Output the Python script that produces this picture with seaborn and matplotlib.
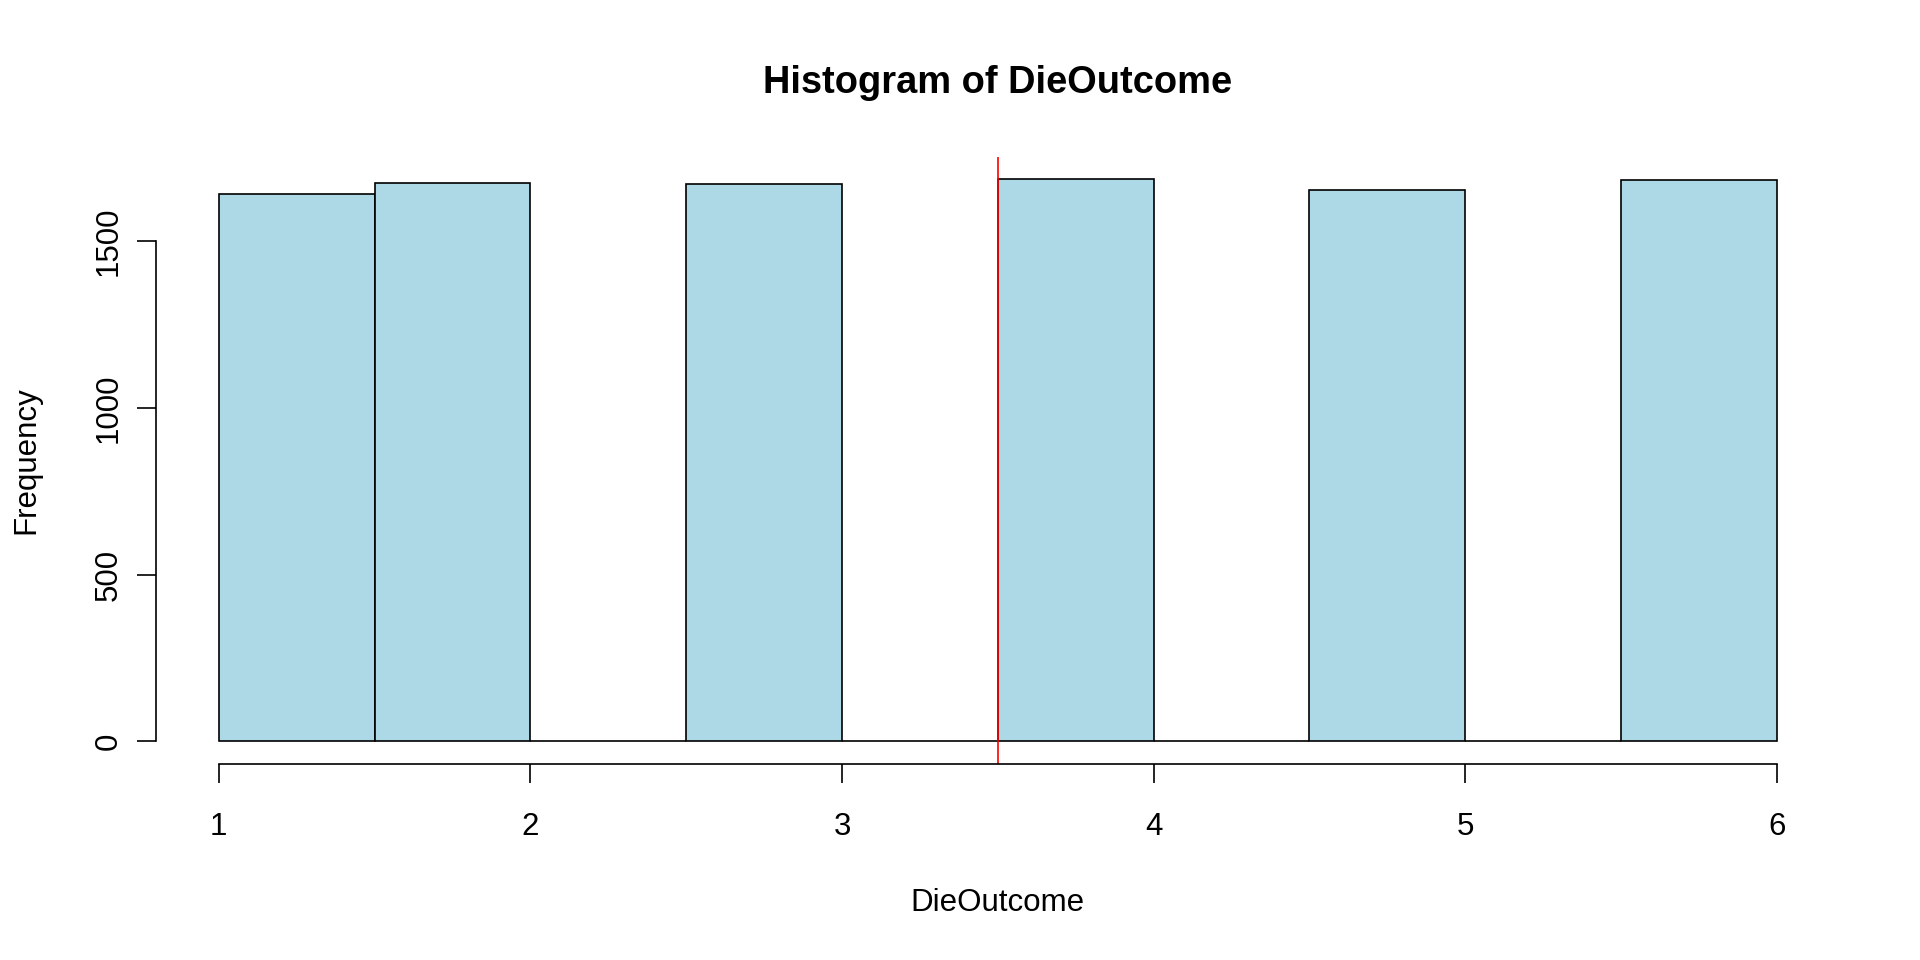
import numpy as np
import pandas as pd
import matplotlib
matplotlib.use("Agg")
import matplotlib.pyplot as plt
import seaborn as sns

# ---- data ----
faces = [1, 2, 3, 4, 5, 6]
counts = [1642, 1674, 1672, 1686, 1653, 1683]
bin_edges = [1.0, 1.5, 2.0, 2.5, 3.0, 3.5, 4.0, 4.5, 5.0, 5.5, 6.0]
x_ticks = [1, 2, 3, 4, 5, 6]
y_ticks = [0, 500, 1000, 1500]
ref_line = 3.5
title = "Histogram of DieOutcome"
xlabel = "DieOutcome"
ylabel = "Frequency"

# R-style right-closed bins (include.lowest): value v goes to bin (a, b]
edges = np.array(bin_edges)
idx = np.clip(np.searchsorted(edges, faces, side="left") - 1, 0, len(edges) - 2)
bin_counts = np.zeros(len(edges) - 1)
for i, c in zip(idx, counts):
    bin_counts[i] += c
bin_centers = (edges[:-1] + edges[1:]) / 2
df = pd.DataFrame({"DieOutcome": bin_centers, "count": bin_counts})

sns.set_theme(style="white")
plt.rcParams['font.family'] = ['Liberation Sans', 'DejaVu Sans']

fig = plt.figure(figsize=(19.2, 9.6), dpi=100)
L, R, T, B = 156.4, 1839.3, 157.0, 763.7
ax = fig.add_axes([L / 1920, 1 - B / 960, (R - L) / 1920, (B - T) / 960])

sns.histplot(data=df, x="DieOutcome", weights="count", bins=list(bin_edges),
             color="#ADD8E6", alpha=1, edgecolor="black", linewidth=1.2, ax=ax)
ax.axvline(ref_line, color="#FF0000", lw=1.2)

ymax = max(counts)
ax.set_ylim(-0.04 * ymax, 1.04 * ymax)
ax.set_xlim(1 - 0.04 * 5, 6 + 0.04 * 5)

for s in ["top", "right"]:
    ax.spines[s].set_visible(False)
for s in ["left", "bottom"]:
    ax.spines[s].set_color("black")
    ax.spines[s].set_linewidth(1.2)
ax.spines["left"].set_bounds(y_ticks[0], y_ticks[-1])
ax.spines["bottom"].set_bounds(x_ticks[0], x_ticks[-1])

ax.set_xticks(x_ticks)
ax.set_yticks(y_ticks)
ax.set_xticklabels([str(v) for v in x_ticks])
ax.set_yticklabels([str(v) for v in y_ticks], rotation=90, va="center")
ax.tick_params(axis="both", direction="out", length=13.7, width=1.2,
               color="black", labelsize=22.5, labelcolor="black", left=True, bottom=True)
ax.tick_params(axis="x", pad=21)
ax.tick_params(axis="y", pad=10)

ax.set_xlabel(xlabel, fontsize=22.5, color="black")
ax.set_ylabel(ylabel, fontsize=22.5, color="black")
ax.xaxis.label.set_va("center")
ax.yaxis.label.set_va("center")
ax.xaxis.set_label_coords(0.5, -(903.0 - B) / (B - T))
ax.yaxis.set_label_coords((26.7 - L) / (R - L), 0.5)

ax.set_title(title, fontsize=27.4, fontweight="bold", pad=46, color="black")

fig.savefig("out.png", dpi=100, facecolor="white")
